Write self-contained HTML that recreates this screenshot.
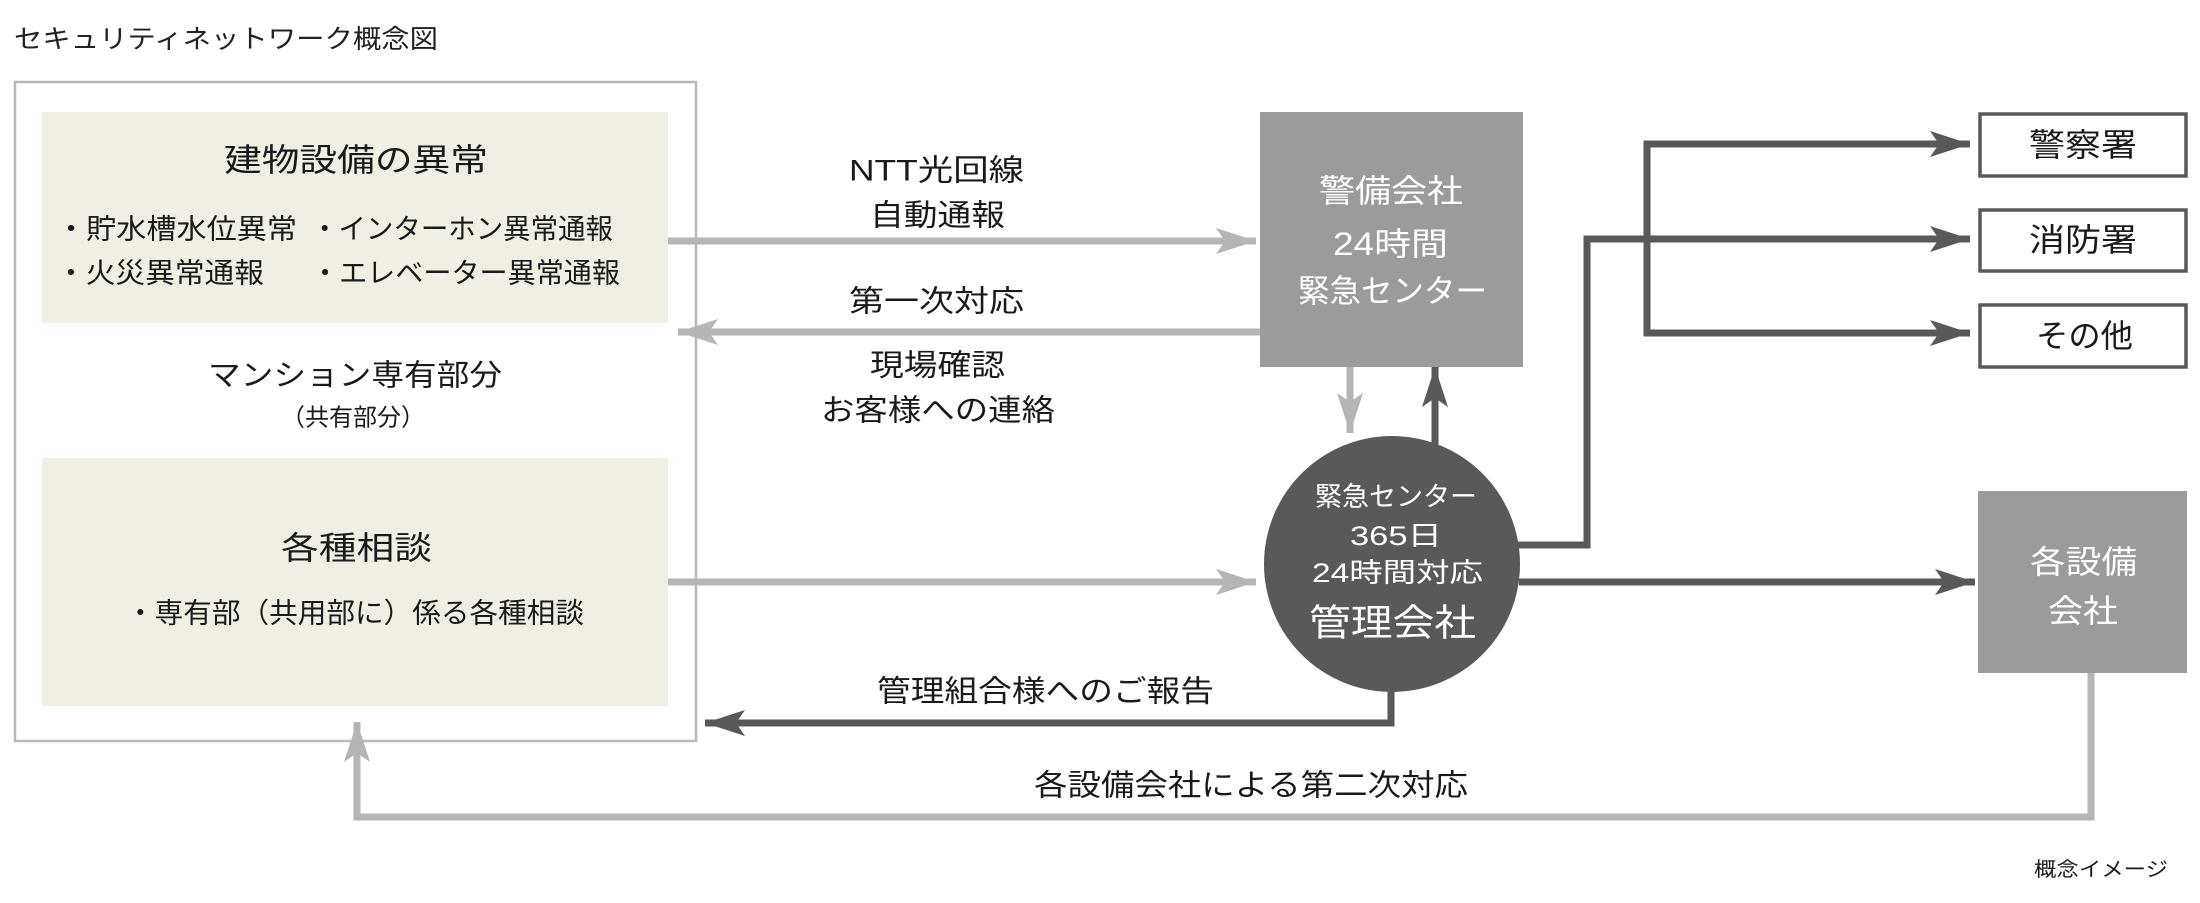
<!DOCTYPE html>
<html><head><meta charset="utf-8"><style>
html,body{margin:0;padding:0;background:#fff;}
svg{display:block;}
text{font-family:"Liberation Sans","Noto Sans CJK JP",sans-serif;dominant-baseline:central;}
</style></head><body>
<svg width="2200" height="903" viewBox="0 0 2200 903" xmlns="http://www.w3.org/2000/svg">
<defs>
<marker id="al" markerUnits="userSpaceOnUse" markerWidth="44" markerHeight="30" refX="40" refY="15" orient="auto"><path d="M0,2 L40,15 L0,28 L9,15 Z" fill="#b5b5b5"/></marker>
<marker id="ad" markerUnits="userSpaceOnUse" markerWidth="44" markerHeight="30" refX="40" refY="15" orient="auto"><path d="M0,2 L40,15 L0,28 L9,15 Z" fill="#595959"/></marker>
</defs>
<text x="14" y="39" font-size="26" fill="#222" textLength="424" lengthAdjust="spacingAndGlyphs">セキュリティネットワーク概念図</text>
<rect x="15" y="82" width="681" height="659" fill="#fff" stroke="#b8b8b8" stroke-width="2.5"/>
<rect x="42" y="112" width="626" height="211" fill="#f1eee3"/>
<rect x="42" y="458" width="626" height="248" fill="#f1eee3"/>
<g fill="#1a1a1a">
<text x="224" y="160" font-size="32" textLength="264" lengthAdjust="spacingAndGlyphs">建物設備の異常</text>
<text x="56" y="229" font-size="28" textLength="241" lengthAdjust="spacingAndGlyphs">・貯水槽水位異常</text>
<text x="311" y="229" font-size="28" textLength="302" lengthAdjust="spacingAndGlyphs">・インターホン異常通報</text>
<text x="56" y="273" font-size="28" textLength="208" lengthAdjust="spacingAndGlyphs">・火災異常通報</text>
<text x="311" y="273" font-size="28" textLength="309" lengthAdjust="spacingAndGlyphs">・エレベーター異常通報</text>
<text x="208" y="376" font-size="30" textLength="294" lengthAdjust="spacingAndGlyphs">マンション専有部分</text>
<text x="281" y="418" font-size="24" textLength="144" lengthAdjust="spacingAndGlyphs">（共有部分）</text>
<text x="281" y="548" font-size="32" textLength="151" lengthAdjust="spacingAndGlyphs">各種相談</text>
<text x="126" y="613" font-size="28" textLength="458" lengthAdjust="spacingAndGlyphs">・専有部（共用部に）係る各種相談</text>
<text x="849" y="171" font-size="30" textLength="175" lengthAdjust="spacingAndGlyphs">NTT光回線</text>
<text x="870" y="216" font-size="30" textLength="135" lengthAdjust="spacingAndGlyphs">自動通報</text>
<text x="849" y="302" font-size="30" textLength="175" lengthAdjust="spacingAndGlyphs">第一次対応</text>
<text x="870" y="366" font-size="30" textLength="135" lengthAdjust="spacingAndGlyphs">現場確認</text>
<text x="821" y="411" font-size="30" textLength="234" lengthAdjust="spacingAndGlyphs">お客様への連絡</text>
<text x="877" y="692" font-size="30" textLength="337" lengthAdjust="spacingAndGlyphs">管理組合様へのご報告</text>
<text x="1034" y="786" font-size="30" textLength="434" lengthAdjust="spacingAndGlyphs">各設備会社による第二次対応</text>
<text x="2034" y="870" font-size="20" textLength="134" lengthAdjust="spacingAndGlyphs">概念イメージ</text>
</g>
<!-- light arrows -->
<g stroke="#b5b5b5" stroke-width="7" fill="none">
<line x1="668" y1="241" x2="1256" y2="241" marker-end="url(#al)"/>
<line x1="1262" y1="332" x2="678" y2="332" marker-end="url(#al)"/>
<line x1="668" y1="582" x2="1256" y2="582" marker-end="url(#al)"/>
<line x1="1350" y1="367" x2="1350" y2="433" marker-end="url(#al)"/>
<polyline points="2091,673 2091,817 357,817 357,722" marker-end="url(#al)"/>
</g>
<rect x="1260" y="112" width="263" height="255" fill="#9b9b9b"/>
<rect x="1978" y="491" width="209" height="182" fill="#9b9b9b"/>
<circle cx="1392" cy="564" r="128" fill="#595959"/>
<g stroke="#595959" stroke-width="7" fill="none">
<line x1="1435" y1="445" x2="1435" y2="367" marker-end="url(#ad)"/>
<polyline points="1391,690 1391,723 705,723" marker-end="url(#ad)"/>
<polyline points="1518,545 1587,545 1587,239 1970,239" marker-end="url(#ad)"/>
<polyline points="1970,144 1647,144 1647,333 1970,333" />
<line x1="1900" y1="144" x2="1970" y2="144" marker-end="url(#ad)"/>
<line x1="1900" y1="333" x2="1970" y2="333" marker-end="url(#ad)"/>
<line x1="1519" y1="582" x2="1975" y2="582" marker-end="url(#ad)"/>
</g>
<g fill="#fff" stroke="#595959" stroke-width="3.5">
<rect x="1980" y="114" width="206" height="62"/>
<rect x="1980" y="210" width="206" height="61"/>
<rect x="1980" y="305" width="206" height="62"/>
</g>
<g fill="#1a1a1a">
<text x="2029" y="145" font-size="32" textLength="108" lengthAdjust="spacingAndGlyphs">警察署</text>
<text x="2029" y="240" font-size="32" textLength="108" lengthAdjust="spacingAndGlyphs">消防署</text>
<text x="2036" y="336" font-size="32" textLength="97" lengthAdjust="spacingAndGlyphs">その他</text>
</g>
<g fill="#fff">
<text x="1319" y="191" font-size="32" textLength="144" lengthAdjust="spacingAndGlyphs">警備会社</text>
<text x="1333" y="244" font-size="32" textLength="115" lengthAdjust="spacingAndGlyphs">24時間</text>
<text x="1298" y="291" font-size="32" textLength="189" lengthAdjust="spacingAndGlyphs">緊急センター</text>
<text x="1315" y="497" font-size="27" textLength="162" lengthAdjust="spacingAndGlyphs">緊急センター</text>
<text x="1350" y="536" font-size="27" textLength="92" lengthAdjust="spacingAndGlyphs">365日</text>
<text x="1312" y="573" font-size="27" textLength="171" lengthAdjust="spacingAndGlyphs">24時間対応</text>
<text x="1309" y="623" font-size="37" textLength="167" lengthAdjust="spacingAndGlyphs">管理会社</text>
<text x="2030" y="562" font-size="32" textLength="107" lengthAdjust="spacingAndGlyphs">各設備</text>
<text x="2048" y="611" font-size="32" textLength="70" lengthAdjust="spacingAndGlyphs">会社</text>
</g>
</svg>
</body></html>
